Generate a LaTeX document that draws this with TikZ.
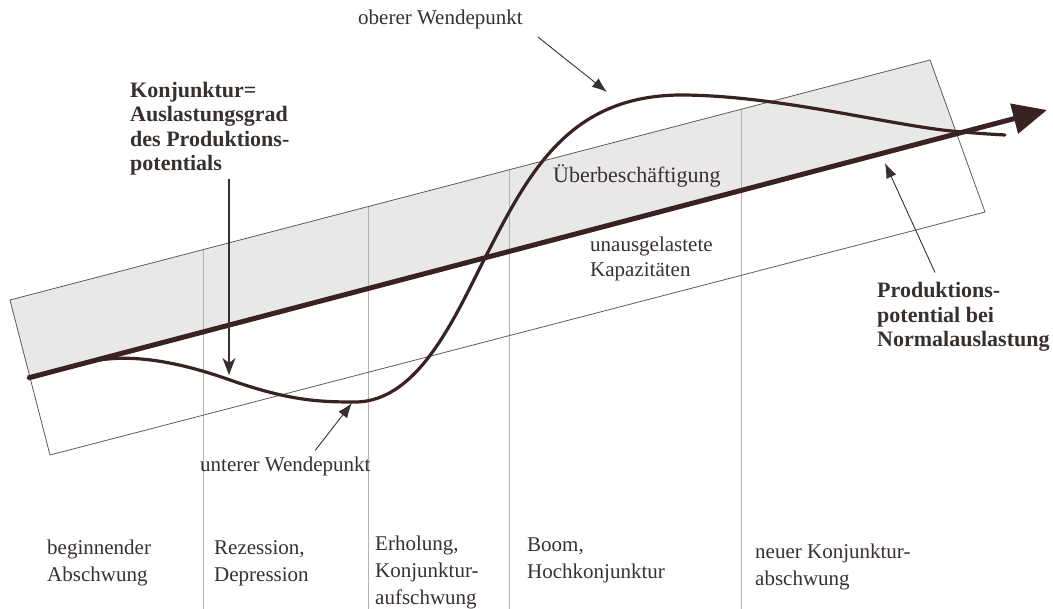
\documentclass[tikz,border=0pt]{standalone}
\usepackage{fontspec}
\setmainfont{Liberation Serif}
\usetikzlibrary{arrows.meta}
\definecolor{ink}{HTML}{3A2F2F}
\definecolor{curvec}{HTML}{3B2222}
\definecolor{bandfill}{HTML}{E8E8E8}
\begin{document}
\begin{tikzpicture}[x=1pt,y=-1pt,
  lbl/.style={inner sep=0pt, anchor=base west, align=left, text=ink,
    font=\fontsize{21}{27}\selectfont},
  blbl/.style={lbl, font=\fontsize{22}{24.5}\selectfont\bfseries},
  sepline/.style={draw=gray!60, line width=0.6pt},
  bandedge/.style={draw=ink!80, line width=0.8pt},
  pointer/.style={draw=ink, line width=0.9pt, -{Latex[length=15pt,width=11pt]}},
]
\useasboundingbox (0,0) rectangle (1053,609);
% band geometry
\coordinate (TL) at (10,300);
\coordinate (TR) at (930,60);
\coordinate (BR) at (985,212);
\coordinate (BL) at (50,455);
\coordinate (ML) at (30,377.5);
\coordinate (MR) at (957.5,136);
\fill[bandfill] (TL) -- (TR) -- (MR) -- (ML) -- cycle;
% phase separators
\draw[sepline] (203,249.6) -- (203,609);
\draw[sepline] (368,206.6) -- (368,609);
\draw[sepline] (509,169.8) -- (509,609);
\draw[sepline] (741,109.3) -- (741,609);
\draw[bandedge] (TL) -- (TR) -- (BR) -- (BL) -- cycle;
% production potential (trend) arrow
\coordinate (trendStart) at (28,378);
\coordinate (trendEnd) at (1047,110);
\draw[curvec, line width=5pt, -{Triangle[length=34pt,width=30pt]}] (trendStart) -- (trendEnd);
% business cycle curve
\draw[curvec, line width=3.2pt, line cap=round]
  (28,378) -- (85,363)
  .. controls (115,355) and (160,355) .. (230,380)
  .. controls (290,401) and (320,402) .. (355,402)
  .. controls (420,402) and (457,312) .. (487,254)
  .. controls (530,170) and (570,96) .. (680,95)
  .. controls (780,95) and (900,128) .. (963,132)
  .. controls (980,133.5) .. (1005,135);
% labels (base anchor of multi-line nodes = baseline of last line)
\node[lbl] (ober) at (358,25) {oberer Wendepunkt};
\coordinate (oberTip) at (607,92);
\draw[pointer] ([shift={(15,12)}]ober.base east) -- (oberTip);

\node[blbl] (konj) at (130,171) {Konjunktur=\\Auslastungsgrad\\des Produktions-\\potentials};
\coordinate (konjTip) at (229,375);
\draw[draw=ink, line width=1.3pt, -{Stealth[length=17pt,width=13pt,inset=5pt]}]
  ([yshift=-3pt]konjTip |- konj.south) -- (konjTip);

\node[lbl] (unter) at (200,472) {unterer Wendepunkt};
\coordinate (unterTip) at (352,403);
\draw[pointer] ([xshift=30pt,yshift=7pt]unter.north) -- (unterTip);

\node[blbl] (prod) at (877,347) {Produktions-\\potential bei\\Normalauslastung};
\coordinate (prodTip) at (885,163);
\draw[pointer] ([shift={(58,-10)}]prod.north west) -- (prodTip);

\node[lbl, font=\fontsize{22}{26}\selectfont] (ueber) at (553,183) {Überbeschäftigung};
\node[lbl, font=\fontsize{21}{25}\selectfont] (unaus) at (590,277) {unausgelastete\\Kapazitäten};

% phase labels
\node[lbl] (p1) at (47,581) {beginnender\\Abschwung};
\node[lbl] (p2) at (214,581) {Rezession,\\Depression};
\node[lbl] (p3) at (375,604) {Erholung,\\Konjunktur-\\aufschwung};
\node[lbl] (p4) at (527,578) {Boom,\\Hochkonjunktur};
\node[lbl] (p5) at (755,585) {neuer Konjunktur-\\abschwung};
\end{tikzpicture}
\end{document}
